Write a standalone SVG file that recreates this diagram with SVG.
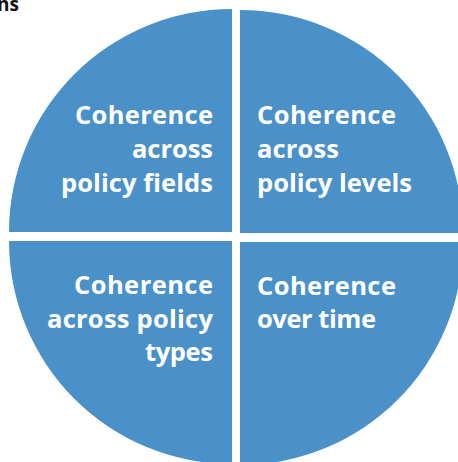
<svg xmlns="http://www.w3.org/2000/svg" width="458" height="462" viewBox="0 0 458 462">
<style>
.q{fill:#4a91c9}
.t{font-family:"Open Sans","Liberation Sans",sans-serif;font-weight:bold;font-size:25.5px;fill:#ffffff}
.r{text-anchor:end}
.hdr{font-family:"Open Sans","Liberation Sans",sans-serif;font-weight:bold;font-size:19px;fill:#111111}
</style>
<rect width="458" height="462" fill="#ffffff"/>
<text class="hdr" x="-3" y="11">ns</text>
<g id="q-fields">
<path class="q" d="M232,232 L9,232 A223,223 0 0 1 232,9 Z"/>
<text class="t r" x="213" y="124" textLength="138">Coherence</text>
<text class="t r" x="213" y="158" textLength="81">across</text>
<text class="t r" x="213" y="192" textLength="152">policy fields</text>
</g>
<g id="q-levels">
<path class="q" d="M240,233 L240,10 A223,223 0 0 1 463,233 Z"/>
<text class="t" x="257" y="124" textLength="139">Coherence</text>
<text class="t" x="257" y="158" textLength="82">across</text>
<text class="t" x="257" y="192" textLength="155">policy levels</text>
</g>
<g id="q-types">
<path class="q" d="M232,241 L232,464 A223,223 0 0 1 9,241 Z"/>
<text class="t r" x="213" y="294" textLength="139">Coherence</text>
<text class="t r" x="213" y="328" textLength="166">across policy</text>
<text class="t r" x="213" y="361" textLength="68">types</text>
</g>
<g id="q-time">
<path class="q" d="M240,242 L463,242 A223,223 0 0 1 240,465 Z"/>
<text class="t" x="257" y="295" textLength="139">Coherence</text>
<text class="t" x="257" y="328" textLength="119">over time</text>
</g>
<g id="connectors"></g>
</svg>
